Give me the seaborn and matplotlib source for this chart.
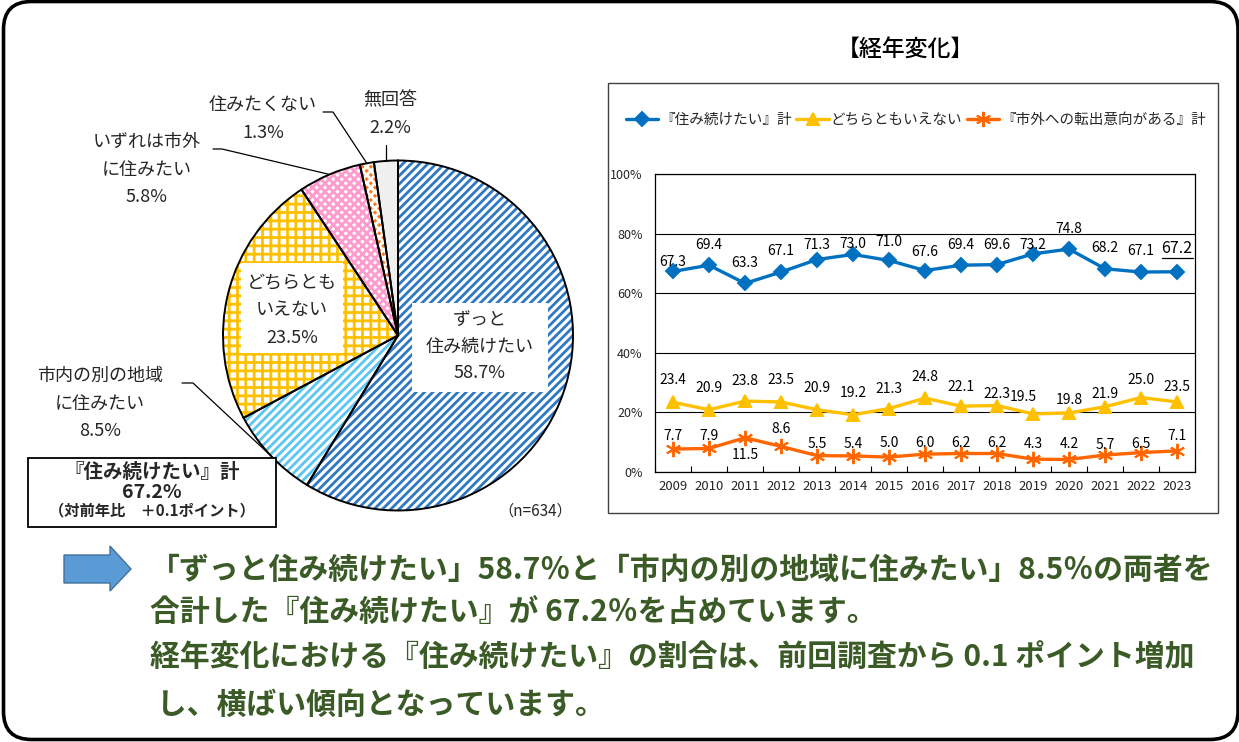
import numpy as np
import pandas as pd
import seaborn as sns
import matplotlib.pyplot as plt
from matplotlib.patches import FancyBboxPatch, Rectangle, Polygon

# ---- pie data ----
pie_labels = ["ずっと\n住み続けたい", "市内の別の地域\nに住みたい", "どちらとも\nいえない",
              "いずれは市外\nに住みたい", "住みたくない", "無回答"]
pie_values = [58.7, 8.5, 23.5, 5.8, 1.3, 2.2]
n_total = 634

# ---- yearly trend data ----
years = list(range(2009, 2024))
stay_total = [67.3, 69.4, 63.3, 67.1, 71.3, 73.0, 71.0, 67.6, 69.4, 69.6, 73.2, 74.8, 68.2, 67.1, 67.2]
neutral = [23.4, 20.9, 23.8, 23.5, 20.9, 19.2, 21.3, 24.8, 22.1, 22.3, 19.5, 19.8, 21.9, 25.0, 23.5]
move_out = [7.7, 7.9, 11.5, 8.6, 5.5, 5.4, 5.0, 6.0, 6.2, 6.2, 4.3, 4.2, 5.7, 6.5, 7.1]
series_names = ["『住み続けたい』計", "どちらともいえない", "『市外への転出意向がある』計"]
y_ticks = [0, 20, 40, 60, 80, 100]

summary_lines = ["『住み続けたい』計", "67.2%", "（対前年比　＋0.1ポイント）"]
comment_lines = [
    "「ずっと住み続けたい」58.7％と「市内の別の地域に住みたい」8.5％の両者を",
    "合計した『住み続けたい』が 67.2％を占めています。",
    "経年変化における『住み続けたい』の割合は、前回調査から 0.1 ポイント増加",
    " し、横ばい傾向となっています。",
]

# ---- styling / layout ----
W, H = 1239, 742
pie_faces = ["white", "white", "white", "white", "#FF7A1A", "#EFEFEF"]
pie_hatch_colors = ["#2E78C2", "#5CC6F2", "#FFC000", "#FF9BCD", "white", "#EFEFEF"]
pie_hatches = ["////", "////", "++", "xxxx", "xxxx", ""]
line_colors = ["#0070C0", "#FFC000", "#FF6600"]
label_dy = [  # pixel offsets of the value labels above each point
    [9, 20, 20, 21, 15, 10, 18, 19, 20, 20, 9, 20, 21, 21, 23],
    [22, 22, 20, 22, 22, 22, 20, 21, 19, 12, 17, 13, 13, 18, 15],
    [13, 12, -17, 17, 12, 12, 14, 11, 11, 11, 15, 15, 10, 9, 15],
]
green = "#3A5A26"

sns.set_theme(style="white")
plt.rcParams["font.family"] = ["Noto Sans CJK JP", "DejaVu Sans"]
plt.rcParams["hatch.linewidth"] = 2.0

fig = plt.figure(figsize=(W / 100, H / 100), dpi=100)

# ---------- pie ----------
R, cx, cy, m = 175, 398, 335.5, 1.1
ax_pie = fig.add_axes([(cx - R * m) / W, (H - cy - R * m) / H, 2 * R * m / W, 2 * R * m / H])
wedges, _ = ax_pie.pie(pie_values, startangle=90, counterclock=False, colors=pie_faces,
                       hatch=pie_hatches, wedgeprops=dict(linewidth=0))
for w, hc in zip(wedges, pie_hatch_colors):
    w.set_edgecolor(hc)
ax_pie.pie(pie_values, startangle=90, counterclock=False, colors=["none"] * len(pie_values),
           wedgeprops=dict(edgecolor="black", linewidth=1.4))
ax_pie.set_xlim(-m, m)
ax_pie.set_ylim(-m, m)
ax_pie.axis("off")

cum = np.cumsum([0] + pie_values)
mids = 90 - 3.6 * (cum[:-1] + cum[1:]) / 2


def edge_pt(i):
    a = np.deg2rad(mids[i])
    return cx + R * np.cos(a), cy - R * np.sin(a)


# ---------- line chart ----------
ax = fig.add_axes([655 / W, (H - 472) / H, 540 / W, 298 / H])
df = pd.DataFrame({
    "year": years * 3,
    "value": stay_total + neutral + move_out,
    "series": np.repeat(series_names, len(years)),
})
sns.lineplot(data=df, x="year", y="value", hue="series", style="series",
             palette=dict(zip(series_names, line_colors)),
             markers=dict(zip(series_names, ["D", "^", "X"])),
             dashes=False, linewidth=2.4, errorbar=None, legend=False, ax=ax)
for line, ms in zip(ax.lines, [7, 9, 11]):
    line.set_markeredgecolor(line.get_color())
    line.set_markerfacecolor(line.get_color())
    line.set_markersize(ms)
    line.set_markeredgewidth(1.4)
ax.lines[2].set_marker((6, 2, 0))

ax.set_xlim(2008.5, 2023.5)
ax.set_ylim(0, 100)
ax.set_yticks(y_ticks)
ax.set_yticklabels([f"{t}%" for t in y_ticks])
ax.set_xticks(years)
ax.set_xticklabels([str(y) for y in years])
ax.set_xticks(np.arange(2008.5, 2024, 1), minor=True)
ax.tick_params(axis="x", which="major", length=0, pad=6, labelsize=9.5)
ax.tick_params(axis="x", which="minor", direction="in", length=4, width=0.8, color="black", bottom=True)
ax.tick_params(axis="y", length=0, pad=9, labelsize=9)
ax.set_xlabel("")
ax.set_ylabel("")
ax.grid(axis="y", color="black", linewidth=0.8)
ax.grid(axis="x", visible=False)
for s in ax.spines.values():
    s.set_color("black")
    s.set_linewidth(0.9)

last_label = None
for vals, offs in zip([stay_total, neutral, move_out], label_dy):
    for i, (yr, v) in enumerate(zip(years, vals)):
        dx = -10 if (vals is neutral and yr == 2019) else 0
        big = vals is stay_total and yr == years[-1]
        t = ax.annotate(f"{v:.1f}", (yr, v), xytext=(dx * 0.72, offs[i] * 0.72),
                        textcoords="offset points", ha="center", va="center",
                        fontsize=11.5 if big else 10, color="black")
        if big:
            last_label = t

fig.legend(handles=ax.lines, labels=series_names, loc="center",
           bbox_to_anchor=(916 / W, 1 - 120 / H), ncol=3, frameon=False, fontsize=10.5,
           handlelength=2.2, columnspacing=0.3, handletextpad=0.15)

# ---------- overlay (pixel coordinates) ----------
ax_bg = fig.add_axes([0, 0, 1, 1], zorder=10)
ax_bg.set_xlim(0, W)
ax_bg.set_ylim(H, 0)
ax_bg.axis("off")

ax_bg.add_patch(FancyBboxPatch((3.5, 1.5), 1234.5, 738, boxstyle="round,pad=0,rounding_size=28",
                               lw=2.6, ec="black", fc="none"))
ax_bg.add_patch(Rectangle((607.5, 82.5), 610, 430, lw=1, ec="#404040", fc="none"))
ax_bg.text(905, 50, "【経年変化】", fontsize=16.5, fontweight="medium", ha="center", va="center", color="black")


def stacked(x, y0, lines, step, **kw):
    for k, s in enumerate(lines):
        ax_bg.text(x, y0 + k * step, s, ha="center", va="center", **kw)


pct = [f"{v:.1f}%" for v in pie_values]
lab_fs = 13

# inside labels with white boxes
ax_bg.add_patch(Rectangle((412, 303), 136, 89, fc="white", ec="none"))
stacked(480, 320, pie_labels[0].split("\n") + [pct[0]], 26.5, fontsize=lab_fs)
ax_bg.add_patch(Rectangle((241, 263), 102, 90, fc="white", ec="none"))
stacked(292, 282, pie_labels[2].split("\n") + [pct[2]], 28, fontsize=lab_fs)

# outside labels with leader lines
stacked(100, 376, pie_labels[1].split("\n") + [pct[1]], 27.5, fontsize=lab_fs)
ex, ey = edge_pt(1)
ax_bg.plot([182, 193, ex], [383, 383, ey], color="black", lw=0.9)

stacked(147, 142, pie_labels[3].split("\n") + [pct[3]], 27.5, fontsize=lab_fs)
ex, ey = edge_pt(3)
ax_bg.plot([213, 222, ex], [149, 149, ey], color="black", lw=0.9)

stacked(263, 105, [pie_labels[4], pct[4]], 28, fontsize=lab_fs)
ex, ey = edge_pt(4)
ax_bg.plot([323, 333, ex], [112, 112, ey], color="black", lw=0.9)

stacked(390, 100, [pie_labels[5], pct[5]], 28, fontsize=lab_fs)
ex, ey = edge_pt(5)
ax_bg.plot([ex, ex], [145, ey], color="black", lw=0.9)

ax_bg.text(535, 511, f"（n={n_total}）", fontsize=11, ha="center", va="center")

# summary box
ax_bg.add_patch(Rectangle((28, 458), 248, 69, fc="white", ec="black", lw=1.3))
ax_bg.text(152, 472, summary_lines[0], fontsize=14, fontweight="bold", ha="center", va="center")
ax_bg.text(152, 492, summary_lines[1], fontsize=14, fontweight="bold", ha="center", va="center")
ax_bg.text(152, 510, summary_lines[2], fontsize=11, fontweight="bold", ha="center", va="center")

# arrow + comment
ax_bg.add_patch(Polygon([(64, 555), (110, 555), (110, 546), (131, 569), (110, 591), (110, 583), (64, 583)],
                        closed=True, fc="#5B9BD5", ec="#41719C", lw=1))
for y, s in zip([570, 613, 658, 705], comment_lines):
    ax_bg.text(150, y, s, fontsize=21.5, fontweight="bold", color=green, ha="left", va="center")

# underline the latest value
fig.canvas.draw()
bb = last_label.get_window_extent()
ax_bg.plot([bb.x0, bb.x1], [H - bb.y0 + 1, H - bb.y0 + 1], color="black", lw=0.9)

fig.savefig("out.png", dpi=100)
